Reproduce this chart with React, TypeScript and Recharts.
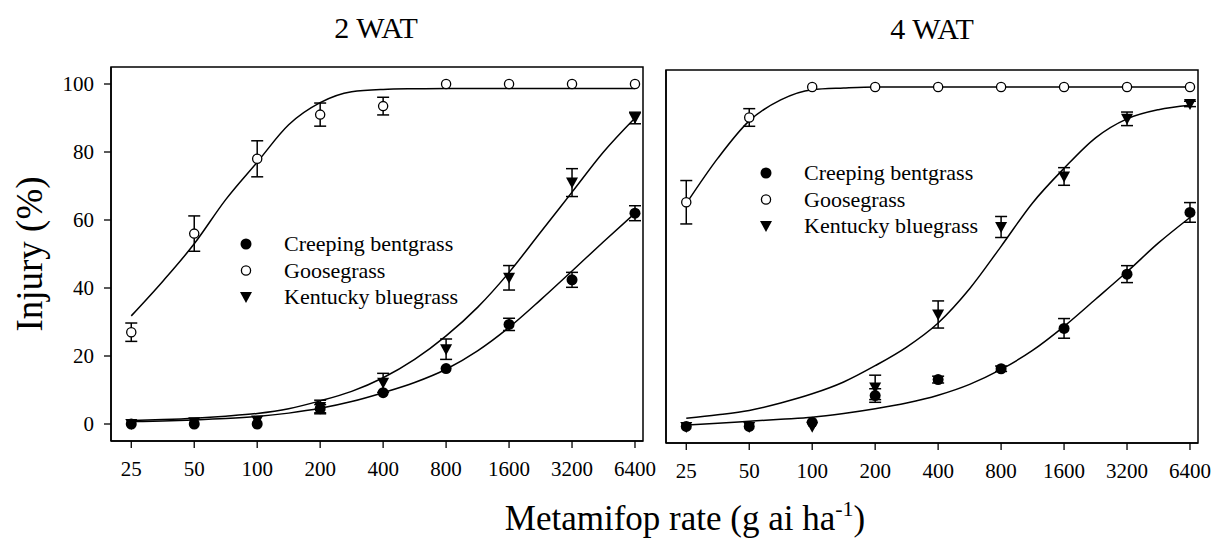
import { ComposedChart, Line, Scatter, ErrorBar, XAxis, YAxis, ReferenceArea } from 'recharts'

const FONT = '"Liberation Serif", "Times New Roman", Times, serif'

// metamifop rates (g ai/ha), log2 axis
const rates = [25, 50, 100, 200, 400, 800, 1600, 3200, 6400]
const curveRates = [25, 35.4, 50, 70.7, 100, 141.4, 200, 282.8, 400, 565.7, 800, 1131, 1600, 2263, 3200, 4525, 6400]
const yTicks = [0, 20, 40, 60, 80, 100]
const X_DOMAIN: [number, number] = [20, 6990]
const Y_DOMAIN: [number, number] = [-5, 105]

// 2 WAT observed means and SE
const bent2 = [0, 0, 0, 4.5, 9.2, 16.3, 29.3, 42.4, 62]
const bent2Err = [0, 0, 0, 1.2, 0, 0, 1.8, 2.2, 2.2]
const goose2 = [27, 56, 78, 91, 93.5, 100, 100, 100, 100]
const goose2Err = [2.7, 5.2, 5.3, 3.4, 2.6, 0, 0, 0, 0]
const kbg2 = [0, 0.5, 1, 5, 12.1, 22, 43, 71, 90]
const kbg2Err = [0, 0, 0, 2, 2.8, 3, 3.6, 4.1, 1.7]

// 2 WAT fitted curves
const bent2Fit = [0.7, 0.9, 1.2, 1.6, 2.2, 3.2, 4.6, 6.6, 9.2, 12.2, 16.1, 21.5, 28.4, 36.5, 45, 53.6, 62]
const goose2Fit = [31.8, 42, 53, 66, 77, 88, 94.5, 97.7, 98.4, 98.6, 98.7, 98.7, 98.7, 98.7, 98.7, 98.7, 98.7]
const kbg2Fit = [1, 1.3, 1.7, 2.3, 3.1, 4.5, 6.8, 9.6, 13.6, 19, 25.9, 34.3, 44.6, 56.4, 68.2, 80, 90]

// 4 WAT observed means and SE
const bent4 = [-0.1, -0.1, 1.1, 9, 13.7, 16.9, 28.8, 44.8, 63]
const bent4Err = [0, 0, 0, 2, 1, 0.8, 2.9, 2.5, 2.9]
const goose4 = [66, 91, 100, 100, 100, 100, 100, 100, 100]
const goose4Err = [6.4, 2.6, 0, 0, 0, 0, 0, 0, 0]
const kbg4 = [-0.3, -0.3, -0.2, 11.4, 32.9, 58.7, 73.6, 90.6, 95]
const kbg4Err = [0, 0, 0, 3.6, 4, 3.1, 2.6, 2, 0.8]

// 4 WAT fitted curves
const bent4Fit = [0.3, 0.8, 1.4, 2, 2.6, 3.7, 5.1, 6.8, 9.1, 12.3, 16.7, 22.3, 29.4, 37.4, 45.5, 54, 61.5]
const goose4Fit = [65.6, 79, 90, 96.2, 99.2, 99.7, 100, 100, 100, 100, 100, 100, 100, 100, 100, 100, 100]
const kbg4Fit = [2.3, 3.3, 4.6, 6.8, 9.5, 13, 17.8, 23.3, 30.4, 40.5, 53, 65.8, 76, 85, 90.6, 93.3, 94.6]

const species = ['Creeping bentgrass', 'Goosegrass', 'Kentucky bluegrass']

const toPoints = (ys: number[], errs: number[]) => rates.map((x, i) => ({ x, y: ys[i], err: errs[i] }))
const toCurve = (ys: number[]) => curveRates.map((x, i) => ({ x, y: ys[i] }))

const FilledDot = (p: any) => <circle cx={p.cx} cy={p.cy} r={5.5} fill="#000" />
const OpenDot = (p: any) => <circle cx={p.cx} cy={p.cy} r={4.6} fill="#fff" stroke="#000" strokeWidth={1.3} />
const DownTri = (p: any) => (
  <path d={`M${p.cx - 6},${p.cy - 5}L${p.cx + 6},${p.cy - 5}L${p.cx},${p.cy + 6}Z`} fill="#000" />
)

const shapes = [FilledDot, OpenDot, DownTri]

interface PanelProps {
  left: number
  width: number
  margin: { top: number; right: number; bottom: number; left: number }
  yWidth: number
  showYLabels: boolean
  points: { x: number; y: number; err: number }[][]
  curves: { x: number; y: number }[][]
}

function Panel({ left, width, margin, yWidth, showYLabels, points, curves }: PanelProps) {
  return (
    <div style={{ position: 'absolute', left, top: 0 }}>
      <ComposedChart width={width} height={500} margin={margin}>
        <XAxis
          type="number"
          dataKey="x"
          scale="log"
          domain={X_DOMAIN}
          allowDataOverflow
          ticks={rates}
          interval={0}
          height={40}
          tickSize={7}
          tickMargin={13}
          axisLine={{ stroke: '#000', strokeWidth: 1.5 }}
          tickLine={{ stroke: '#000', strokeWidth: 1.3 }}
          tick={{ fill: '#000', fontSize: 21, fontFamily: FONT }}
        />
        <YAxis
          type="number"
          dataKey="y"
          domain={Y_DOMAIN}
          allowDataOverflow
          ticks={yTicks}
          interval={0}
          width={yWidth}
          tickSize={showYLabels ? 7 : 6}
          tickMargin={10}
          axisLine={{ stroke: '#000', strokeWidth: 1.5 }}
          tickLine={{ stroke: '#000', strokeWidth: 1.3 }}
          tick={showYLabels ? { fill: '#000', fontSize: 21, fontFamily: FONT } : false}
        />
        <ReferenceArea x1={X_DOMAIN[0]} x2={X_DOMAIN[1]} y1={Y_DOMAIN[0]} y2={Y_DOMAIN[1]} fill="none" stroke="#000" strokeWidth={1.5} fillOpacity={0} />
        {curves.map((c, i) => (
          <Line key={`c${i}`} data={c} dataKey="y" type="monotone" stroke="#000" strokeWidth={1.5} dot={false} activeDot={false} isAnimationActive={false} />
        ))}
        {points.map((p, i) => (
          <Scatter key={`p${i}`} data={p} dataKey="y" shape={shapes[i]} isAnimationActive={false}>
            <ErrorBar dataKey="err" direction="y" width={6} stroke="#000" strokeWidth={1.5} />
          </Scatter>
        ))}
      </ComposedChart>
    </div>
  )
}

function LegendBlock({ x, y }: { x: number; y: number }) {
  return (
    <g>
      {species.map((name, i) => {
        const Shape = shapes[i]
        const cy = y + i * 26.5
        return (
          <g key={name}>
            <Shape cx={x} cy={cy} />
            <text x={x + 38} y={cy + 7} fontSize={22} fontFamily={FONT} fill="#000">
              {name}
            </text>
          </g>
        )
      })}
    </g>
  )
}

export default function App() {
  return (
    <div style={{ position: 'relative', width: 1212, height: 538, background: '#fff', overflow: 'hidden' }}>
      <style>{'body{margin:0}'}</style>
      <Panel
        left={0}
        width={660}
        margin={{ top: 67, right: 17, bottom: 19, left: 51 }}
        yWidth={60}
        showYLabels
        points={[toPoints(bent2, bent2Err), toPoints(goose2, goose2Err), toPoints(kbg2, kbg2Err)]}
        curves={[toCurve(bent2Fit), toCurve(goose2Fit), toCurve(kbg2Fit)]}
      />
      <Panel
        left={640}
        width={572}
        margin={{ top: 70, right: 14, bottom: 17, left: 6 }}
        yWidth={20}
        showYLabels={false}
        points={[toPoints(bent4, bent4Err), toPoints(goose4, goose4Err), toPoints(kbg4, kbg4Err)]}
        curves={[toCurve(bent4Fit), toCurve(goose4Fit), toCurve(kbg4Fit)]}
      />
      <svg width={1212} height={538} style={{ position: 'absolute', left: 0, top: 0, pointerEvents: 'none' }}>
        <text x={376} y={38} textAnchor="middle" fontSize={30} fontFamily={FONT} fill="#000">2 WAT</text>
        <text x={932} y={39} textAnchor="middle" fontSize={30} fontFamily={FONT} fill="#000">4 WAT</text>
        <text transform="translate(42,254) rotate(-90)" textAnchor="middle" fontSize={37} fontFamily={FONT} fill="#000">Injury (%)</text>
        <text x={685} y={530} textAnchor="middle" fontSize={35} fontFamily={FONT} fill="#000">
          Metamifop rate (g ai ha<tspan fontSize={22} dy={-14}>-1</tspan><tspan dy={14}>)</tspan>
        </text>
        <LegendBlock x={246} y={244} />
        <LegendBlock x={766} y={173} />
      </svg>
    </div>
  )
}
